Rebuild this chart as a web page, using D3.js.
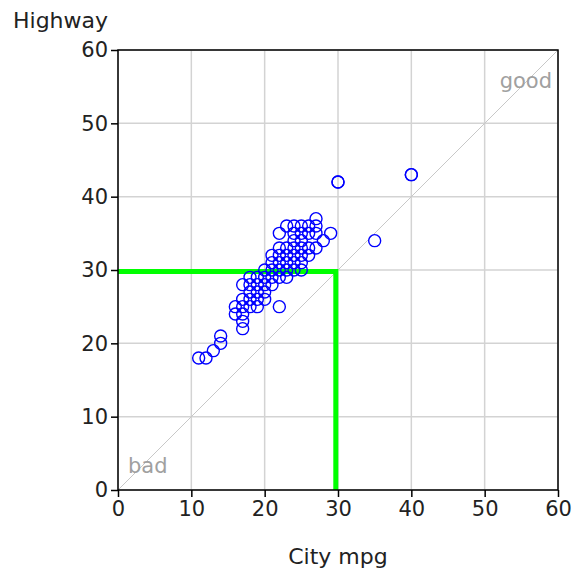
<!DOCTYPE html>
<html><head><meta charset="utf-8">
<script src="https://cdn.jsdelivr.net/npm/d3@7"></script>
<style>body{margin:0;background:#fff}svg{display:block}text{font-family:"DejaVu Sans",sans-serif}</style>
</head><body>
<svg id="c" width="575" height="581"></svg>
<script>
const cityMpg =    [11,12,13,14,14,16,16,17,17,17,17,17,17,18,18,18,18,18,19,19,19,19,19,20,20,20,20,21,21,21,21,22,22,22,22,22,22,22,23,23,23,23,23,23,24,24,24,24,24,24,25,25,25,25,25,25,25,26,26,26,27,27,27,27,28,29,30,30,35,40,40,26,24,20,21];
const highwayMpg = [18,18,19,20,21,24,25,22,23,24,25,26,28,25,26,27,28,29,25,26,27,28,29,26,27,28,29,28,29,30,31,25,29,30,31,32,33,35,29,30,31,32,33,36,30,31,32,33,34,36,30,31,32,33,34,35,36,32,35,36,33,35,36,37,34,35,42,42,34,43,43,33,35,30,32];
const axisTicks = [0,10,20,30,40,50,60];
const refCity = 29.7;
const refHighway = 29.8;
const diagonal = [[0,0],[60,60]];

const svg = d3.select("#c");
const m = {l:118, t:50, w:440, h:440};
const x = d3.scaleLinear().domain([0,60]).range([m.l, m.l+m.w]);
const y = d3.scaleLinear().domain([0,60]).range([m.t+m.h, m.t]);

// grid
const g = svg.append("g");
g.selectAll(".gx").data(axisTicks).join("line")
  .attr("x1", d=>x(d)).attr("x2", d=>x(d)).attr("y1", y(0)).attr("y2", y(60))
  .attr("stroke","#d3d3d3").attr("stroke-width",1.5);
g.selectAll(".gy").data(axisTicks).join("line")
  .attr("y1", d=>y(d)).attr("y2", d=>y(d)).attr("x1", x(0)).attr("x2", x(60))
  .attr("stroke","#d3d3d3").attr("stroke-width",1.5);

// diagonal
svg.append("path").attr("d", d3.line().x(d=>x(d[0])).y(d=>y(d[1]))(diagonal))
  .attr("stroke","#c8c8c8").attr("stroke-width",1).attr("fill","none");

svg.append("text").attr("x", x(60)-6).attr("y", y(55)+1).attr("text-anchor","end")
  .attr("font-size",21).attr("fill","#a0a0a0").text("good");
svg.append("text").attr("x", x(0)+10).attr("y", y(3)+5)
  .attr("font-size",21).attr("fill","#a0a0a0").text("bad");

// green reference lines
svg.append("path")
  .attr("d", `M${x(0)},${y(refHighway)}L${x(refCity)},${y(refHighway)}L${x(refCity)},${y(0)}`)
  .attr("stroke","#00ff00").attr("stroke-width",5).attr("fill","none").attr("stroke-linejoin","miter");

// points
svg.append("g").selectAll("circle").data(cityMpg.map((c,i)=>[c,highwayMpg[i]])).join("circle")
  .attr("cx", d=>x(d[0])).attr("cy", d=>y(d[1])).attr("r",6)
  .attr("fill","none").attr("stroke","#0000ff").attr("stroke-width",1.4);

// frame
svg.append("rect").attr("x",x(0)).attr("y",y(60)).attr("width",m.w).attr("height",m.h)
  .attr("fill","none").attr("stroke","#000").attr("stroke-width",1.5);

// axes
const xa = svg.append("g").attr("transform",`translate(0,${y(0)})`)
  .call(d3.axisBottom(x).tickValues(axisTicks).tickSize(7).tickPadding(4));
const ya = svg.append("g").attr("transform",`translate(${x(0)},0)`)
  .call(d3.axisLeft(y).tickValues(axisTicks).tickSize(7).tickPadding(3));
[xa,ya].forEach(a=>{
  a.select(".domain").remove();
  a.selectAll("line").attr("stroke","#000").attr("stroke-width",1.5);
  a.selectAll("text").attr("font-size",21).attr("fill","#222").style("font-family","DejaVu Sans");
});

svg.append("text").attr("x", (x(0)+x(60))/2).attr("y",564).attr("text-anchor","middle")
  .attr("font-size",22).attr("fill","#222").text("City mpg");
svg.append("text").attr("x",13).attr("y",28)
  .attr("font-size",22).attr("fill","#222").text("Highway");
</script>
</body></html>
